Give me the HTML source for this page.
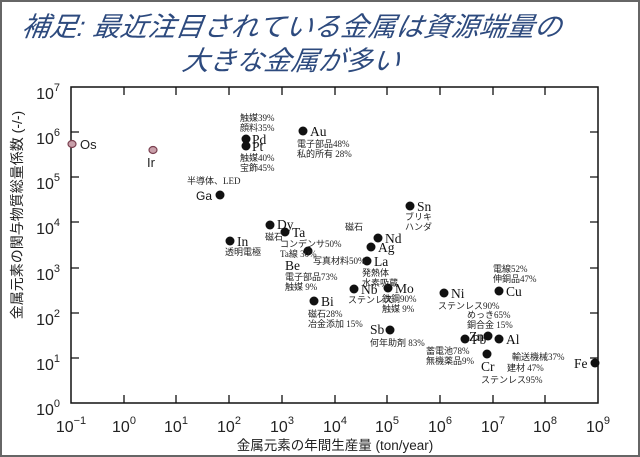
<!DOCTYPE html>
<html><head><meta charset="utf-8"><style>
html,body{margin:0;padding:0;background:#fff;}
svg{display:block;}
.t{font-family:"Liberation Sans","Noto Sans CJK JP",sans-serif;font-size:16px;fill:#222;}
.e{font-family:"Liberation Serif","Noto Serif CJK SC",serif;font-size:13.5px;fill:#111;}
.a{font-family:"Liberation Serif","Noto Sans CJK JP",sans-serif;font-size:9px;fill:#222;}
</style></head><body>
<svg width="640" height="457" viewBox="0 0 640 457" xmlns="http://www.w3.org/2000/svg">
<rect x="1" y="1" width="638" height="455" fill="#fff" stroke="#666" stroke-width="2"/>
<g font-family="Liberation Sans,'Noto Sans CJK JP',sans-serif" font-size="27" font-style="italic" fill="#2d4a7e">
<text x="22" y="36" transform="skewX(-8) translate(4,0)" textLength="540" lengthAdjust="spacingAndGlyphs">補足: 最近注目されている金属は資源端量の</text>
<text x="182" y="70" transform="skewX(-8) translate(9,0)" textLength="218" lengthAdjust="spacingAndGlyphs">大きな金属が多い</text>
</g>
<rect x="71" y="87" width="527" height="316" fill="none" stroke="#111" stroke-width="1.5"/>
<g stroke="#111" stroke-width="1.3">
<path d="M124 87v8M176 87v8M229 87v8M282 87v8M335 87v8M387 87v8M440 87v8M493 87v8M545 87v8
M124 403v-8M176 403v-8M229 403v-8M282 403v-8M335 403v-8M387 403v-8M440 403v-8M493 403v-8M545 403v-8
M71 132h8M71 177h8M71 222h8M71 268h8M71 313h8M71 358h8
M598 132h-8M598 177h-8M598 222h-8M598 268h-8M598 313h-8M598 358h-8"/>
</g>
<g class="t" text-anchor="end">
<text x="60" y="99">10<tspan dy="-8" font-size="11">7</tspan></text>
<text x="60" y="144">10<tspan dy="-8" font-size="11">6</tspan></text>
<text x="60" y="189">10<tspan dy="-8" font-size="11">5</tspan></text>
<text x="60" y="234">10<tspan dy="-8" font-size="11">4</tspan></text>
<text x="60" y="280">10<tspan dy="-8" font-size="11">3</tspan></text>
<text x="60" y="325">10<tspan dy="-8" font-size="11">2</tspan></text>
<text x="60" y="370">10<tspan dy="-8" font-size="11">1</tspan></text>
<text x="60" y="415">10<tspan dy="-8" font-size="11">0</tspan></text>
</g>
<g class="t" text-anchor="middle">
<text x="71" y="432">10<tspan dy="-8" font-size="11">−1</tspan></text>
<text x="124" y="432">10<tspan dy="-8" font-size="11">0</tspan></text>
<text x="176" y="432">10<tspan dy="-8" font-size="11">1</tspan></text>
<text x="229" y="432">10<tspan dy="-8" font-size="11">2</tspan></text>
<text x="282" y="432">10<tspan dy="-8" font-size="11">3</tspan></text>
<text x="335" y="432">10<tspan dy="-8" font-size="11">4</tspan></text>
<text x="387" y="432">10<tspan dy="-8" font-size="11">5</tspan></text>
<text x="440" y="432">10<tspan dy="-8" font-size="11">6</tspan></text>
<text x="493" y="432">10<tspan dy="-8" font-size="11">7</tspan></text>
<text x="545" y="432">10<tspan dy="-8" font-size="11">8</tspan></text>
<text x="598" y="432">10<tspan dy="-8" font-size="11">9</tspan></text>
<text x="335" y="450" style="font-size:13.5px">金属元素の年間生産量 (ton/year)</text>
<text transform="translate(22,215) rotate(-90)" style="font-size:14px">金属元素の関与物質総量係数 (-/-)</text>
</g>
<g fill="#c9a0aa" stroke="#7a4050" stroke-width="1.2">
<ellipse cx="72" cy="144" rx="4" ry="3.5"/><ellipse cx="153" cy="150" rx="4" ry="3.5"/>
</g>
<g class="t" style="font-size:13px"><text x="80" y="149">Os</text><text x="147" y="167">Ir</text></g>
<g fill="#111">
<circle cx="246" cy="139" r="4.5"/><circle cx="246" cy="146" r="4.5"/><circle cx="303" cy="131" r="4.5"/>
<circle cx="220" cy="195" r="4.5"/><circle cx="410" cy="206" r="4.5"/><circle cx="270" cy="225" r="4.5"/>
<circle cx="285" cy="232" r="4.5"/><circle cx="230" cy="241" r="4.5"/><circle cx="378" cy="238" r="4.5"/>
<circle cx="371" cy="247" r="4.5"/><circle cx="308" cy="251" r="4.5"/><circle cx="367" cy="261" r="4.5"/>
<circle cx="354" cy="289" r="4.5"/><circle cx="388" cy="288" r="4.5"/><circle cx="314" cy="301" r="4.5"/>
<circle cx="390" cy="330" r="4.5"/><circle cx="444" cy="293" r="4.5"/><circle cx="499" cy="291" r="4.5"/>
<circle cx="488" cy="336" r="4.5"/><circle cx="465" cy="339" r="4.5"/><circle cx="499" cy="339" r="4.5"/>
<circle cx="487" cy="354" r="4.5"/><circle cx="595" cy="363" r="4.5"/>
</g>
<text x="196" y="200" style="font-family:'Liberation Sans',sans-serif;font-size:12px;fill:#111">Ga</text>
<g class="e">
<text x="252" y="144">Pd</text><text x="252" y="151">Pt</text><text x="310" y="136">Au</text>
<text x="417" y="211">Sn</text><text x="277" y="229">Dy</text>
<text x="292" y="237">Ta</text><text x="237" y="246">In</text><text x="385" y="243">Nd</text>
<text x="378" y="252">Ag</text><text x="285" y="270">Be</text><text x="374" y="266">La</text>
<text x="361" y="294">Nb</text><text x="395" y="293">Mo</text><text x="321" y="306">Bi</text>
<text x="370" y="334">Sb</text><text x="451" y="298">Ni</text><text x="506" y="296">Cu</text>
<text x="469" y="341">Zn</text><text x="472" y="344">Pb</text><text x="506" y="344">Al</text>
<text x="481" y="371">Cr</text><text x="574" y="368">Fe</text>
</g>
<g class="a">
<text x="240" y="121">触媒39%</text><text x="240" y="131">顔料35%</text>
<text x="240" y="161">触媒40%</text><text x="240" y="171">宝飾45%</text>
<text x="297" y="147">電子部品48%</text><text x="297" y="157">私的所有 28%</text>
<text x="187" y="184">半導体、LED</text>
<text x="405" y="220">ブリキ</text><text x="405" y="230">ハンダ</text>
<text x="265" y="240">磁石</text><text x="280" y="247">コンデンサ50%</text><text x="280" y="257">Ta線 30%</text>
<text x="225" y="255">透明電極</text><text x="345" y="230">磁石</text>
<text x="313" y="264">写真材料50%</text>
<text x="285" y="280">電子部品73%</text><text x="285" y="290">触媒 9%</text>
<text x="362" y="276">発熱体</text><text x="362" y="286">水素吸蔵</text>
<text x="348" y="303">ステンレス</text><text x="382" y="302">鉄鋼90%</text><text x="382" y="312">触媒 9%</text>
<text x="308" y="317">磁石28%</text><text x="308" y="327">冶金添加 15%</text>
<text x="370" y="346">何年助剤 83%</text>
<text x="438" y="309">ステンレス90%</text>
<text x="467" y="318">めっき65%</text><text x="467" y="328">銅合金 15%</text>
<text x="493" y="272">電線52%</text><text x="493" y="282">伸銅品47%</text>
<text x="426" y="354">蓄電池78%</text><text x="426" y="364">無機薬品9%</text>
<text x="512" y="360">輸送機械37%</text><text x="507" y="371">建材 47%</text>
<text x="481" y="383">ステンレス95%</text>
</g>
</svg>
</body></html>
